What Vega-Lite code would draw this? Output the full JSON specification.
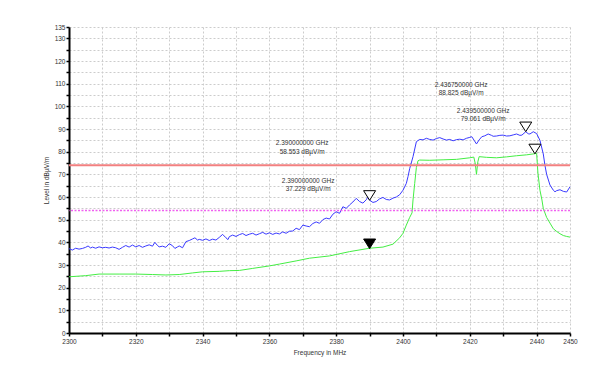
{
  "$schema": "https://vega.github.io/schema/vega-lite/v6.json",
  "width": 501,
  "height": 306,
  "autosize": {"type": "none"},
  "padding": {"left": 69, "top": 27, "right": 36, "bottom": 41},
  "background": "white",
  "config": {"view": {"stroke": null}, "font": "Liberation Sans"},
  "datasets": {
    "limits": [
      {"level": 74, "kind": "limit"},
      {"level": 54, "kind": "margin"}
    ],
    "peak": [
      {"f":2300,"level":37.2},{"f":2301,"level":36.6},{"f":2302,"level":37.4},{"f":2303,"level":37.0},{"f":2304,"level":37.3},{"f":2305,"level":37.8},{"f":2305.7,"level":38.4},{"f":2306.5,"level":37.5},{"f":2307,"level":37.9},{"f":2308,"level":37.4},{"f":2309,"level":38.0},{"f":2310,"level":37.6},{"f":2311,"level":37.8},{"f":2312,"level":37.5},{"f":2313,"level":37.9},{"f":2314,"level":37.6},{"f":2315,"level":36.9},{"f":2316,"level":37.8},{"f":2317,"level":38.6},{"f":2318,"level":37.9},{"f":2319,"level":38.8},{"f":2320,"level":38.0},{"f":2321,"level":38.6},{"f":2322,"level":37.8},{"f":2323,"level":38.4},{"f":2324,"level":38.9},{"f":2325,"level":38.3},{"f":2325.7,"level":40.0},{"f":2326.5,"level":38.6},{"f":2327,"level":38.0},{"f":2328,"level":38.3},{"f":2329,"level":37.8},{"f":2330,"level":39.4},{"f":2331,"level":38.5},{"f":2331.7,"level":37.3},{"f":2332.5,"level":38.0},{"f":2333,"level":38.4},{"f":2334,"level":37.6},{"f":2335,"level":40.3},{"f":2336,"level":40.8},{"f":2337,"level":41.5},{"f":2337.7,"level":42.0},{"f":2338.5,"level":41.0},{"f":2339,"level":41.3},{"f":2340,"level":40.9},{"f":2341,"level":41.5},{"f":2342,"level":40.8},{"f":2343,"level":41.4},{"f":2344,"level":41.0},{"f":2345,"level":42.2},{"f":2346,"level":43.5},{"f":2347,"level":42.0},{"f":2347.6,"level":41.2},{"f":2348,"level":42.5},{"f":2349,"level":43.2},{"f":2350,"level":42.6},{"f":2351,"level":43.4},{"f":2352,"level":43.9},{"f":2353,"level":43.0},{"f":2354,"level":43.6},{"f":2355,"level":44.0},{"f":2356,"level":43.2},{"f":2357,"level":43.8},{"f":2358,"level":44.4},{"f":2359,"level":43.6},{"f":2360,"level":44.2},{"f":2361,"level":43.5},{"f":2362,"level":44.1},{"f":2363,"level":43.7},{"f":2364,"level":44.6},{"f":2365,"level":44.0},{"f":2366,"level":44.9},{"f":2367,"level":45.0},{"f":2368,"level":46.2},{"f":2369,"level":45.6},{"f":2370,"level":47.6},{"f":2371,"level":47.2},{"f":2372,"level":46.9},{"f":2373,"level":48.3},{"f":2374,"level":49.0},{"f":2375,"level":48.4},{"f":2376,"level":50.0},{"f":2377,"level":50.7},{"f":2378,"level":50.3},{"f":2379,"level":52.4},{"f":2380,"level":53.5},{"f":2381,"level":52.8},{"f":2382,"level":55.7},{"f":2383,"level":55.0},{"f":2384,"level":56.5},{"f":2385,"level":57.8},{"f":2386,"level":59.4},{"f":2387,"level":58.0},{"f":2388,"level":57.3},{"f":2389,"level":58.8},{"f":2389.5,"level":60.0},{"f":2390,"level":58.6},{"f":2391,"level":57.6},{"f":2392,"level":58.0},{"f":2393,"level":59.2},{"f":2394,"level":59.8},{"f":2395,"level":58.9},{"f":2396,"level":58.7},{"f":2397,"level":59.5},{"f":2398,"level":60.0},{"f":2399,"level":61.0},{"f":2400,"level":63.0},{"f":2401,"level":66.0},{"f":2401.5,"level":69.0},{"f":2402,"level":72.5},{"f":2403,"level":77.8},{"f":2404,"level":84.4},{"f":2405,"level":85.4},{"f":2406,"level":85.2},{"f":2407,"level":85.9},{"f":2408,"level":85.4},{"f":2409,"level":85.1},{"f":2410,"level":85.8},{"f":2411,"level":86.2},{"f":2412,"level":85.6},{"f":2413,"level":85.1},{"f":2414,"level":85.4},{"f":2415,"level":84.8},{"f":2416,"level":85.3},{"f":2417,"level":85.5},{"f":2418,"level":85.2},{"f":2419,"level":85.9},{"f":2420,"level":86.3},{"f":2420.6,"level":86.6},{"f":2421.3,"level":85.0},{"f":2422,"level":83.4},{"f":2422.8,"level":85.2},{"f":2423.6,"level":86.6},{"f":2424.5,"level":87.0},{"f":2425.5,"level":87.8},{"f":2426.5,"level":87.2},{"f":2427,"level":86.8},{"f":2428,"level":86.9},{"f":2429,"level":87.2},{"f":2430,"level":87.3},{"f":2431,"level":86.9},{"f":2432,"level":87.0},{"f":2433,"level":87.4},{"f":2434,"level":87.8},{"f":2435,"level":87.2},{"f":2435.6,"level":87.3},{"f":2436.75,"level":88.8},{"f":2437.5,"level":87.9},{"f":2438,"level":87.8},{"f":2439,"level":88.8},{"f":2440,"level":88.0},{"f":2441,"level":85.0},{"f":2442,"level":79.0},{"f":2442.5,"level":74.0},{"f":2443,"level":70.0},{"f":2444,"level":65.3},{"f":2445,"level":63.0},{"f":2445.5,"level":62.3},{"f":2446,"level":62.8},{"f":2447,"level":63.2},{"f":2448,"level":62.5},{"f":2449,"level":62.2},{"f":2450,"level":64.5}
    ],
    "avg": [
      {"f":2300,"level":24.8},{"f":2305,"level":25.3},{"f":2309,"level":26.0},{"f":2315,"level":26.0},{"f":2320,"level":26.0},{"f":2325,"level":25.8},{"f":2329,"level":25.6},{"f":2333,"level":25.8},{"f":2337,"level":26.5},{"f":2340,"level":27.0},{"f":2345,"level":27.2},{"f":2348,"level":27.5},{"f":2351,"level":27.6},{"f":2355,"level":28.5},{"f":2360,"level":29.6},{"f":2363,"level":30.4},{"f":2368,"level":31.8},{"f":2372,"level":33.0},{"f":2378,"level":34.0},{"f":2384,"level":35.9},{"f":2390,"level":37.4},{"f":2394,"level":37.9},{"f":2397,"level":39.2},{"f":2399,"level":42.0},{"f":2400,"level":44.0},{"f":2401,"level":47.6},{"f":2402,"level":51.0},{"f":2402.7,"level":53.0},{"f":2403,"level":58.7},{"f":2403.5,"level":66.0},{"f":2404,"level":73.0},{"f":2404.5,"level":76.0},{"f":2405,"level":76.3},{"f":2408,"level":76.2},{"f":2412,"level":76.4},{"f":2416,"level":76.6},{"f":2420,"level":77.3},{"f":2421.2,"level":77.6},{"f":2421.6,"level":75.0},{"f":2422,"level":70.0},{"f":2422.4,"level":75.5},{"f":2422.8,"level":77.8},{"f":2425,"level":77.5},{"f":2428,"level":77.3},{"f":2431,"level":77.7},{"f":2434,"level":78.2},{"f":2437,"level":78.6},{"f":2439.5,"level":79.1},{"f":2440,"level":79.3},{"f":2440.4,"level":70.6},{"f":2441,"level":63.0},{"f":2441.6,"level":58.7},{"f":2442,"level":55.0},{"f":2443,"level":51.0},{"f":2444,"level":48.5},{"f":2445,"level":46.0},{"f":2446,"level":44.8},{"f":2447,"level":43.8},{"f":2448,"level":43.0},{"f":2449,"level":42.6},{"f":2450,"level":42.3}
    ],
    "markers": [
      {"f": 2390, "level": 58.553, "kind": "open"},
      {"f": 2436.75, "level": 88.825, "kind": "open"},
      {"f": 2439.5, "level": 79.061, "kind": "open"},
      {"f": 2390, "level": 37.229, "kind": "filled"}
    ],
    "labels": [
      {"f": 2369.8, "level": 83.9, "text": "2.390000000 GHz"},
      {"f": 2369.8, "level": 79.8, "text": "58.553 dBµV/m"},
      {"f": 2371.6, "level": 67.2, "text": "2.390000000 GHz"},
      {"f": 2371.6, "level": 63.5, "text": "37.229 dBµV/m"},
      {"f": 2417.4, "level": 109.4, "text": "2.436750000 GHz"},
      {"f": 2417.4, "level": 105.9, "text": "88.825 dBµV/m"},
      {"f": 2424.0, "level": 98.1, "text": "2.439500000 GHz"},
      {"f": 2424.0, "level": 94.4, "text": "79.061 dBµV/m"}
    ]
  },
  "encoding": {
    "x": {
      "field": "f", "type": "quantitative",
      "scale": {"domain": [2300, 2450], "nice": false, "zero": false},
      "axis": {
        "title": "Frequency in MHz",
        "values": [2300,2310,2320,2330,2340,2350,2360,2370,2380,2390,2400,2410,2420,2430,2440,2450],
        "labelExpr": "(datum.value % 20 == 0 || datum.value == 2450) ? datum.label : ''",
        "format": "d",
        "grid": true, "gridDash": [2, 2], "gridColor": "#cccccc", "gridWidth": 1,
        "domainColor": "black", "domainWidth": 2,
        "tickColor": "black", "tickSize": 3, "tickWidth": 1.5,
        "labelFontSize": 6.5, "labelColor": "#333333", "labelPadding": 2,
        "labelOverlap": false, "labelFlush": false,
        "titleFontSize": 6.5, "titleFontWeight": "normal", "titleColor": "#333333", "titlePadding": 5
      }
    },
    "y": {
      "field": "level", "type": "quantitative",
      "scale": {"domain": [0, 135], "nice": false, "zero": true},
      "axis": {
        "title": "Level in dBµV/m",
        "values": [0,5,10,15,20,25,30,35,40,45,50,55,60,65,70,75,80,85,90,95,100,105,110,115,120,125,130,135],
        "labelExpr": "(datum.value % 10 == 0 || datum.value == 135) ? datum.label : ''",
        "grid": true, "gridDash": [2, 2], "gridColor": "#cccccc", "gridWidth": 1,
        "domainColor": "black", "domainWidth": 2,
        "tickColor": "black", "tickSize": 3, "tickWidth": 1.5,
        "labelFontSize": 6.5, "labelColor": "#333333", "labelPadding": 1,
        "labelOverlap": false, "labelFlush": false,
        "titleFontSize": 6.5, "titleFontWeight": "normal", "titleColor": "#333333", "titlePadding": 5
      }
    }
  },
  "layer": [
    {
      "data": {"name": "avg"},
      "mark": {"type": "line", "color": "#44ee44", "strokeWidth": 1}
    },
    {
      "data": {"name": "peak"},
      "mark": {"type": "line", "color": "#3a3aff", "strokeWidth": 1}
    },
    {
      "data": {"name": "limits"},
      "transform": [{"filter": "datum.kind == 'limit'"}],
      "mark": {"type": "rule", "color": "#f28080", "strokeWidth": 2},
      "encoding": {"x": null}
    },
    {
      "data": {"name": "limits"},
      "transform": [{"filter": "datum.kind == 'margin'"}],
      "mark": {"type": "rule", "color": "#f060f0", "strokeWidth": 1.5, "strokeDash": [2, 1.5]},
      "encoding": {"x": null}
    },
    {
      "data": {"name": "markers"},
      "mark": {"type": "point", "shape": "M-1,-1.6L1,-1.6L0,0Z", "size": 144, "filled": true, "stroke": "black", "strokeWidth": 1, "opacity": 1},
      "encoding": {
        "fill": {"field": "kind", "type": "nominal", "scale": {"domain": ["open", "filled"], "range": ["white", "black"]}, "legend": null}
      }
    },
    {
      "data": {"name": "labels"},
      "mark": {"type": "text", "fontSize": 6.5, "color": "#333333", "align": "center", "baseline": "middle"},
      "encoding": {
        "text": {"field": "text", "type": "nominal"}
      }
    }
  ]
}
